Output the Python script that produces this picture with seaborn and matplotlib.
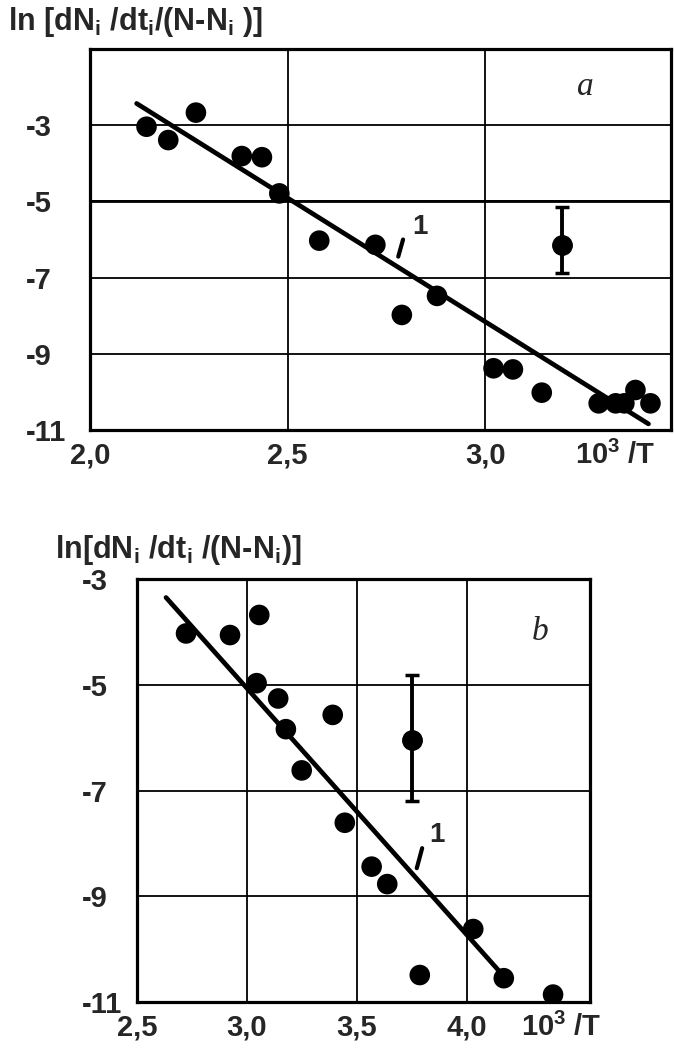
import matplotlib
matplotlib.use("Agg")
import matplotlib.pyplot as plt
import seaborn as sns

# ---- panel a : values ----
a_x = [2.143, 2.198, 2.268, 2.384, 2.435, 2.479, 2.580, 2.722, 2.789, 2.878,
       3.021, 3.070, 3.143, 3.287, 3.330, 3.352, 3.380, 3.418]
a_y = [-3.04, -3.39, -2.67, -3.81, -3.84, -4.79, -6.03, -6.14, -7.98, -7.48,
       -9.38, -9.41, -10.02, -10.30, -10.30, -10.30, -9.95, -10.30]
a_fit_x = [2.118, 3.413]
a_fit_y = [-2.43, -10.84]
a_err_x = [3.194]
a_err_y = [-6.14]
a_err_lo = [-6.89]
a_err_hi = [-5.16]
a_xticks = [2.0, 2.5, 3.0]
a_xlabels = ["2,0", "2,5", "3,0"]

# ---- panel b ----
b_x = [2.723, 2.923, 3.056, 3.044, 3.142, 3.177, 3.249, 3.390, 3.445, 3.567,
       3.638, 3.786, 4.029, 4.168, 4.392]
b_y = [-4.03, -4.06, -3.68, -4.97, -5.26, -5.84, -6.62, -5.57, -7.61, -8.44,
       -8.77, -10.49, -9.62, -10.55, -10.86]
b_fit_x = [2.632, 4.165]
b_fit_y = [-3.35, -10.50]
b_err_x = [3.749]
b_err_y = [-6.04]
b_err_lo = [-7.19]
b_err_hi = [-4.81]
b_xticks = [2.5, 3.0, 3.5, 4.0]
b_xlabels = ["2,5", "3,0", "3,5", "4,0"]

yticks = [-3, -5, -7, -9, -11]
ylabels = ["-3", "-5", "-7", "-9", "-11"]

sns.set_style("white")
plt.rcParams['font.family'] = ['Liberation Sans', 'DejaVu Sans']
plt.rcParams['font.weight'] = 'bold'
plt.rcParams['mathtext.fontset'] = 'custom'
plt.rcParams['mathtext.rm'] = 'Liberation Sans:bold'
plt.rcParams['mathtext.it'] = 'Liberation Sans:bold'
plt.rcParams['mathtext.bf'] = 'Liberation Sans:bold'
plt.rcParams['mathtext.default'] = 'rm'


def draw_panel(ax, px, py, fx, fy, ex, ey, elo, ehi, xticks, xlabels, ylpad):
    ax.grid(True, color="black", lw=1.3)
    sns.lineplot(x=fx, y=fy, color="black", lw=3.4, ax=ax, zorder=3)
    sns.scatterplot(x=px, y=py, s=220, color="black", edgecolor="none",
                    ax=ax, zorder=4)
    yerr = [[ey[0] - elo[0]], [ehi[0] - ey[0]]]
    ax.errorbar(ex, ey, yerr=yerr, fmt="o", color="black", ms=14, lw=2.8,
                capsize=5, capthick=2.5, zorder=4)
    ax.set_xticks(xticks, xlabels)
    ax.set_yticks(yticks, ylabels)
    ax.tick_params(length=0, labelsize=21)
    ax.tick_params(axis="x", pad=8)
    ax.tick_params(axis="y", pad=ylpad)
    for lbl in ax.get_yticklabels():
        lbl.set_ha("left")
    for sp in ax.spines.values():
        sp.set_color("black")
        sp.set_linewidth(2.3)
    ax.set_xlabel("")
    ax.set_ylabel("")


fig = plt.figure(figsize=(6.74, 10.49), dpi=100)

ax1 = fig.add_axes([90 / 674, 1 - 430 / 1049, 581 / 674, 381 / 1049])
draw_panel(ax1, a_x, a_y, a_fit_x, a_fit_y, a_err_x, a_err_y, a_err_lo,
           a_err_hi, a_xticks, a_xlabels, 46)
ax1.set_xlim(2.0, 3.47)
ax1.set_ylim(-11, -1)
ax1.axhline(-5, color="black", lw=2.0)
ax1.text(3.253, -2.0, "a", fontsize=24, family="Liberation Serif",
         style="italic", weight="normal", ha="center", va="center")
ax1.text(2.835, -5.67, "1", fontsize=20, ha="center", va="center")
ax1.annotate("", xy=(2.794, -5.93), xytext=(2.778, -6.52),
             arrowprops=dict(arrowstyle="-", lw=3.0, color="black"))
ax1.annotate("10$^3$ /T", xy=(3.33, 0), xycoords=("data", "axes fraction"),
             xytext=(0, -8), textcoords="offset points", ha="center",
             va="top", fontsize=21)
fig.text(8 / 674, 1 - 22 / 1049,
         "ln [dN$_\\mathrm{i}$ /dt$_\\mathrm{i}$/(N-N$_\\mathrm{i}$ )]",
         fontsize=22, ha="left", va="center")

ax2 = fig.add_axes([137 / 674, 1 - 1002 / 1049, 453 / 674, 423 / 1049])
draw_panel(ax2, b_x, b_y, b_fit_x, b_fit_y, b_err_x, b_err_y, b_err_lo,
           b_err_hi, b_xticks, b_xlabels, 40)
ax2.set_xlim(2.5, 4.56)
ax2.set_ylim(-11, -3)
ax2.text(4.333, -4.0, "b", fontsize=24, family="Liberation Serif",
         style="italic", weight="normal", ha="center", va="center")
ax2.text(3.862, -7.84, "1", fontsize=20, ha="center", va="center")
ax2.annotate("", xy=(3.800, -8.04), xytext=(3.769, -8.52),
             arrowprops=dict(arrowstyle="-", lw=3.0, color="black"))
ax2.annotate("10$^3$ /T", xy=(4.427, 0), xycoords=("data", "axes fraction"),
             xytext=(0, -8), textcoords="offset points", ha="center",
             va="top", fontsize=21)
fig.text(55 / 674, 1 - 550 / 1049,
         "ln[dN$_\\mathrm{i}$ /dt$_\\mathrm{i}$ /(N-N$_\\mathrm{i}$)]",
         fontsize=22, ha="left", va="center")

fig.savefig("out.png", dpi=100)
